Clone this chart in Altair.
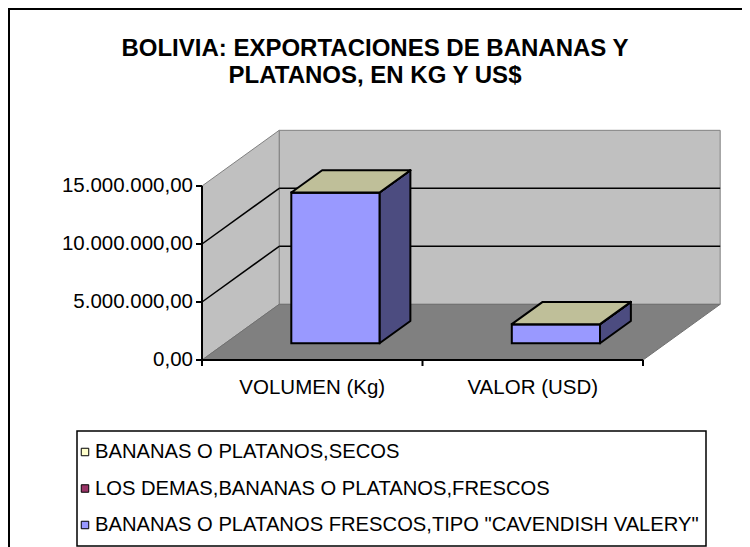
import altair as alt
import pandas as pd

# ---------------- data ----------------
categories = ["VOLUMEN (Kg)", "VALOR (USD)"]
series_names = [
    'BANANAS O PLATANOS FRESCOS,TIPO "CAVENDISH VALERY"',
    "LOS DEMAS,BANANAS O PLATANOS,FRESCOS",
    "BANANAS O PLATANOS,SECOS",
]
cavendish = [13000000, 1650000]
los_demas = [0, 0]
secos = [0, 0]
series_values = [cavendish, los_demas, secos]
series_colors = ["#9999FF", "#993366", "#FFFFCC"]
y_tick_values = [0, 5000000, 10000000, 15000000]
y_tick_labels = ["0,00", "5.000.000,00", "10.000.000,00", "15.000.000,00"]
title_lines = ["BOLIVIA: EXPORTACIONES DE BANANAS Y", "PLATANOS, EN KG Y US$"]

# ---------------- 3D / layout style constants ----------------
FONT = "Liberation Sans"
DX = 0.35          # depth shift in category units
DY = 4.8e6         # depth shift in value units
BAR_W = 0.4        # bar width (fraction of category)
BF, BB = 0.3, 0.7  # bar front / back depth fraction
Y_MAX = max(y_tick_values)
N = len(categories)
PX_PER_CAT = 220.5
PX_PER_UNIT = 11.6e-6
X_DOM = [0, 2.4]
Y_DOM = [0, 21e6]
W = (X_DOM[1] - X_DOM[0]) * PX_PER_CAT
H = (Y_DOM[1] - Y_DOM[0]) * PX_PER_UNIT
PAD_L, PAD_T = 194, 108.4
# page coordinates -> plot coordinates
PX = lambda px: px - 8 - PAD_L
PY = lambda py: py - 8 - PAD_T


def shade(hex_color, f):
    h = hex_color.lstrip("#")
    r, g, b = (int(h[i:i + 2], 16) for i in (0, 2, 4))
    return "#%02X%02X%02X" % (round(r * f), round(g * f), round(b * f))


xs = alt.Scale(domain=X_DOM, nice=False, zero=False)
ys = alt.Scale(domain=Y_DOM, nice=False, zero=False)

# ---------------- derived tables ----------------
front_rows, side_rows, top_rows = [], [], []
for i, cat in enumerate(categories):
    base = 0.0
    x0 = i + 0.5 - BAR_W / 2
    x1 = i + 0.5 + BAR_W / 2
    for s, name in enumerate(series_names):
        v = series_values[s][i]
        top = base + v
        front_rows.append(dict(x=x0 + BF * DX, x2=x1 + BF * DX,
                               y=base + BF * DY, y2=top + BF * DY, c=series_colors[s]))
        sid = f"{i}-{s}"
        col = shade(series_colors[s], 0.5)
        side_rows.append(dict(id=sid, x=x1 + BF * DX, y=top + BF * DY, y2=base + BF * DY, c=col))
        side_rows.append(dict(id=sid, x=x1 + BB * DX, y=top + BB * DY, y2=base + BB * DY, c=col))
        base = top
    # top face of the stack (shaded colour of the topmost series)
    tcol = shade(series_colors[-1], 0.75)
    fy, by = base + BF * DY, base + BB * DY
    for (xx, yy, yy2) in [(x0 + BF * DX, fy, fy), (x0 + BB * DX, by, fy),
                          (x1 + BF * DX, by, fy), (x1 + BB * DX, by, by)]:
        top_rows.append(dict(id=str(i), x=xx, y=yy, y2=yy2, c=tcol))

front_df = pd.DataFrame(front_rows)
side_df = pd.DataFrame(side_rows)
top_df = pd.DataFrame(top_rows)

floor_df = pd.DataFrame(dict(x=[0, DX, N, N + DX], y=[0, DY, DY, DY], y2=[0, 0, 0, DY]))
lwall_df = pd.DataFrame(dict(x=[0, DX], y=[Y_MAX, Y_MAX + DY], y2=[0, DY]))
bwall_df = pd.DataFrame(dict(x=[DX], x2=[N + DX], y=[DY], y2=[Y_MAX + DY]))
grid_vals = [v for v in y_tick_values if 0 < v < Y_MAX]
grid_back = pd.DataFrame(dict(x=[DX] * len(grid_vals), x2=[N + DX] * len(grid_vals),
                              y=[v + DY for v in grid_vals]))
grid_left = pd.DataFrame(dict(x=[0] * len(grid_vals), x2=[DX] * len(grid_vals),
                              y=grid_vals, y2=[v + DY for v in grid_vals]))
ytick_df = pd.DataFrame(dict(x=[0] * len(y_tick_values), y=y_tick_values, label=y_tick_labels))
xtick_df = pd.DataFrame(dict(x=list(range(N + 1)), y=[0] * (N + 1)))
cat_df = pd.DataFrame(dict(x=[i + 0.5 for i in range(N)], y=[0] * N, label=categories))
yaxis_df = pd.DataFrame(dict(x=[0], y=[0], y2=[Y_MAX]))
xaxis_df = pd.DataFrame(dict(x=[0], x2=[N], y=[0]))
one = pd.DataFrame(dict(k=[0]))

# legend (Excel lists the stacked series top-first)
LEG_ROW0, LEG_STEP = 452, 36.5
leg_df = pd.DataFrame(dict(
    label=series_names[::-1], c=series_colors[::-1],
    ly=[PY(LEG_ROW0 + k * LEG_STEP) for k in range(len(series_names))]))

X = lambda f="x": alt.X(f"{f}:Q", scale=xs, axis=None)
Y = lambda f="y": alt.Y(f"{f}:Q", scale=ys, axis=None, stack=None)

border = alt.Chart(one).mark_rect(fill=None, stroke="black", strokeWidth=2).encode(
    x=alt.value(PX(9)), y=alt.value(PY(9)), x2=alt.value(900), y2=alt.value(900))

bwall = alt.Chart(bwall_df).mark_rect(fill="#C0C0C0", stroke="#808080", strokeWidth=1).encode(
    x=X(), x2="x2:Q", y=Y(), y2="y2:Q")
lwall = alt.Chart(lwall_df).mark_area(fill="#C0C0C0", stroke="#808080", strokeWidth=1).encode(
    x=X(), y=Y(), y2="y2:Q")
floor = alt.Chart(floor_df).mark_area(fill="#808080", stroke="#707070", strokeWidth=1).encode(
    x=X(), y=Y(), y2="y2:Q")
gback = alt.Chart(grid_back).mark_rule(color="black", strokeWidth=1.5).encode(
    x=X(), x2="x2:Q", y=Y())
gleft = alt.Chart(grid_left).mark_rule(color="black", strokeWidth=1.5).encode(
    x=X(), x2="x2:Q", y=Y(), y2="y2:Q")

sides = alt.Chart(side_df).mark_area(stroke="black", strokeWidth=2, strokeJoin="round").encode(
    x=X(), y=Y(), y2="y2:Q", detail="id:N", color=alt.Color("c:N", scale=None))
fronts = alt.Chart(front_df).mark_rect(stroke="black", strokeWidth=2).encode(
    x=X(), x2="x2:Q", y=Y(), y2="y2:Q", color=alt.Color("c:N", scale=None))
tops = alt.Chart(top_df).mark_area(stroke="black", strokeWidth=2, strokeJoin="round").encode(
    x=X(), y=Y(), y2="y2:Q", detail="id:N", color=alt.Color("c:N", scale=None))

yaxis = alt.Chart(yaxis_df).mark_rule(color="black", strokeWidth=2).encode(
    x=X(), y=Y(), y2="y2:Q")
xaxis = alt.Chart(xaxis_df).mark_rule(color="black", strokeWidth=2).encode(
    x=X(), x2="x2:Q", y=Y())
yticks = alt.Chart(ytick_df).mark_rule(color="black", strokeWidth=2).encode(
    x=X(), x2=alt.value(-6), y=Y())
ylabels = alt.Chart(ytick_df).mark_text(font=FONT, fontSize=20.5, align="right", baseline="middle",
                                        dx=-9, color="black").encode(
    x=X(), y=Y(), text="label:N")
xticks = alt.Chart(xtick_df).mark_rule(color="black", strokeWidth=2).encode(
    x=X(), y=Y(), y2=alt.value(H + 6))
xlabels = alt.Chart(cat_df).mark_text(font=FONT, fontSize=20.5, align="center", baseline="middle",
                                      dy=28, color="black").encode(
    x=X(), y=Y(), text="label:N")
title = alt.Chart(one).mark_text(text=title_lines, font=FONT, fontSize=24, fontWeight="bold",
                                 align="center", baseline="alphabetic", lineHeight=27,
                                 color="black").encode(
    x=alt.value(PX(375)), y=alt.value(PY(56)))

leg_box = alt.Chart(one).mark_rect(fill="white", stroke="black", strokeWidth=1.5).encode(
    x=alt.value(PX(77)), x2=alt.value(PX(706)), y=alt.value(PY(431)), y2=alt.value(PY(546)))
leg_sym = alt.Chart(leg_df).mark_square(size=56, stroke="black", strokeWidth=1, opacity=1,
                                        filled=True).encode(
    x=alt.value(PX(85)), y=alt.Y("ly:Q", scale=None, axis=None),
    fill=alt.Fill("c:N", scale=None))
leg_txt = alt.Chart(leg_df).mark_text(font=FONT, fontSize=20.2, align="left", baseline="middle",
                                      color="black").encode(
    x=alt.value(PX(95)), y=alt.Y("ly:Q", scale=None, axis=None), text="label:N")

chart = alt.layer(
    border, bwall, lwall, floor, gback, gleft, sides, fronts, tops,
    yaxis, xaxis, yticks, ylabels, xticks, xlabels, title,
    leg_box, leg_sym, leg_txt
).properties(
    width=W, height=H,
    autosize=alt.AutoSizeParams(type="none"),
    padding={"left": PAD_L, "top": PAD_T, "right": 734 - PAD_L - W, "bottom": 545 - PAD_T - H},
).configure(font=FONT, view=alt.ViewConfig(stroke=None))

chart.save("out.html", embed_options={"renderer": "svg", "actions": False})
